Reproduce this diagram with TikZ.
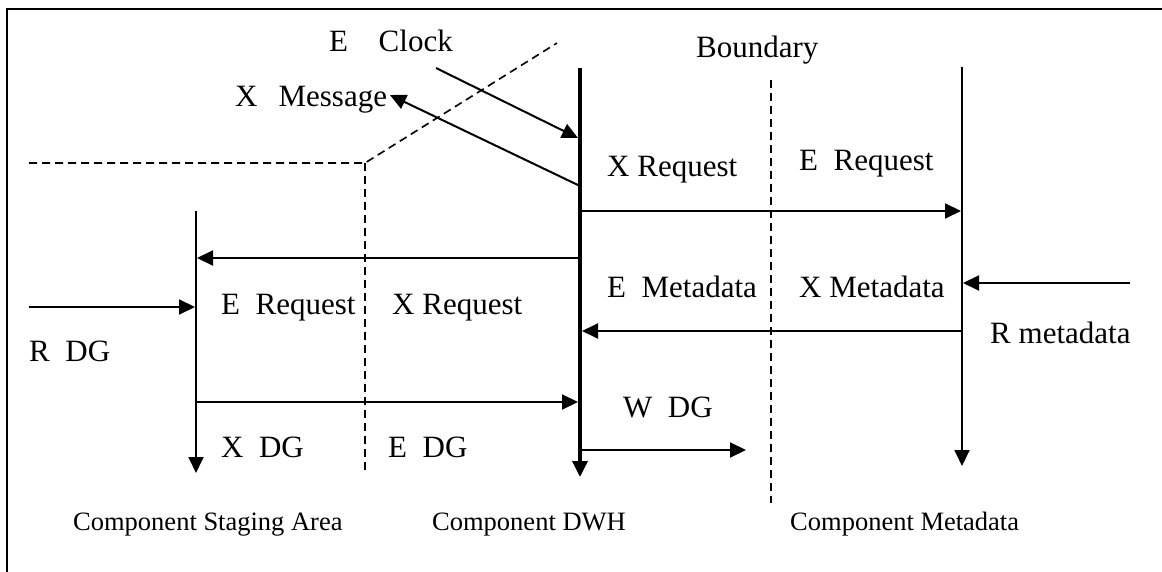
\documentclass[tikz,border=0pt]{standalone}
\usepackage{fontspec}
\setmainfont{Liberation Serif}
\usetikzlibrary{arrows.meta}
\begin{document}
\begin{tikzpicture}[x=1pt,y=-1pt,
  lbl/.style={anchor=base west,inner sep=0pt,font=\fontsize{31}{36}\selectfont},
  complbl/.style={anchor=base west,inner sep=0pt,font=\fontsize{26.5}{30}\selectfont},
  tiphead/.style={-{Triangle[length=16pt,width=15pt]}},
  msg/.style={line width=2pt,tiphead},
  life/.style={line width=1.8pt,tiphead},
  bound/.style={line width=1.6pt,dash pattern=on 8pt off 5pt}]
\useasboundingbox (0,0) rectangle (1162,572);

% outer frame
\draw[line width=2.5pt] (7,572) -- (7,9) -- (1162,9);

% component boundaries
\coordinate (bA) at (557,43);
\coordinate (bK) at (365,163);
\coordinate (bL) at (29,163);
\coordinate (bB) at (365,472);
\coordinate (mT) at (771,80);
\coordinate (mB) at (771,503);
\draw[bound] (bL) -- (bK) -- (bA);
\draw[bound] (bK) -- (bB);
\draw[bound] (mT) -- (mB);

% lifelines
\coordinate (stT) at (196,211);
\coordinate (stB) at (196,473);
\coordinate (dwT) at (580,68);
\coordinate (dwB) at (580,477);
\coordinate (mdT) at (962,67);
\coordinate (mdB) at (962,466);
\draw[life] (stT) -- (stB);
\draw[life,line width=3.5pt] (dwT) -- (dwB);
\draw[life] (mdT) -- (mdB);

% message end points
\coordinate (clkS) at (436,68);
\coordinate (clkE) at (578,138);
\coordinate (msgS) at (580,186);
\coordinate (msgE) at (390,95);
\coordinate (reqS) at (580,211);
\coordinate (reqE) at (961,211);
\coordinate (req2S) at (580,258);
\coordinate (req2E) at (197,258);
\coordinate (rmS) at (1130,283);
\coordinate (rmE) at (963,283);
\coordinate (metS) at (962,331);
\coordinate (metE) at (582,331);
\coordinate (rdS) at (29,307);
\coordinate (rdE) at (195,307);
\coordinate (dgS) at (196,402);
\coordinate (dgE) at (578,402);
\coordinate (wdS) at (580,450);
\coordinate (wdE) at (746,450);

\draw[msg] (clkS) -- (clkE);
\draw[msg] (msgS) -- (msgE);
\draw[msg] (reqS) -- (reqE);
\draw[msg] (req2S) -- (req2E);
\draw[msg] (rmS) -- (rmE);
\draw[msg] (metS) -- (metE);
\draw[msg] (rdS) -- (rdE);
\draw[msg] (dgS) -- (dgE);
\draw[msg] (wdS) -- (wdE);

% labels
\node[lbl] (lclk) at (329,52) {E\hspace{30.6pt}Clock};
\node[lbl] (lmsg) at (235,107) {X\hspace{21pt}Message};
\node[lbl] (lbnd) at (696,58) {Boundary};
\node[lbl] (lxr) at (607,177) {X Request};
\node[lbl] (ler) at (799,171) {E~~Request};
\node[lbl] (lem) at (607,297) {E~~Metadata};
\node[lbl] (lxm) at (799,297) {X Metadata};
\node[lbl] (lrm) at (990,343) {R metadata};
\node[lbl] (ler2) at (221,314) {E~~Request};
\node[lbl] (lxr2) at (392,314) {X Request};
\node[lbl] (lrd) at (29,361) {R~~DG};
\node[lbl] (lwd) at (623,417) {W~~DG};
\node[lbl] (lxd) at (221,457) {X~~DG};
\node[lbl] (led) at (388,457) {E~~DG};
\node[complbl] (cst) at (73,530) {Component Staging Area};
\node[complbl] (cdw) at (432,530) {Component DWH};
\node[complbl] (cmd) at (790,530) {Component Metadata};
\end{tikzpicture}
\end{document}
